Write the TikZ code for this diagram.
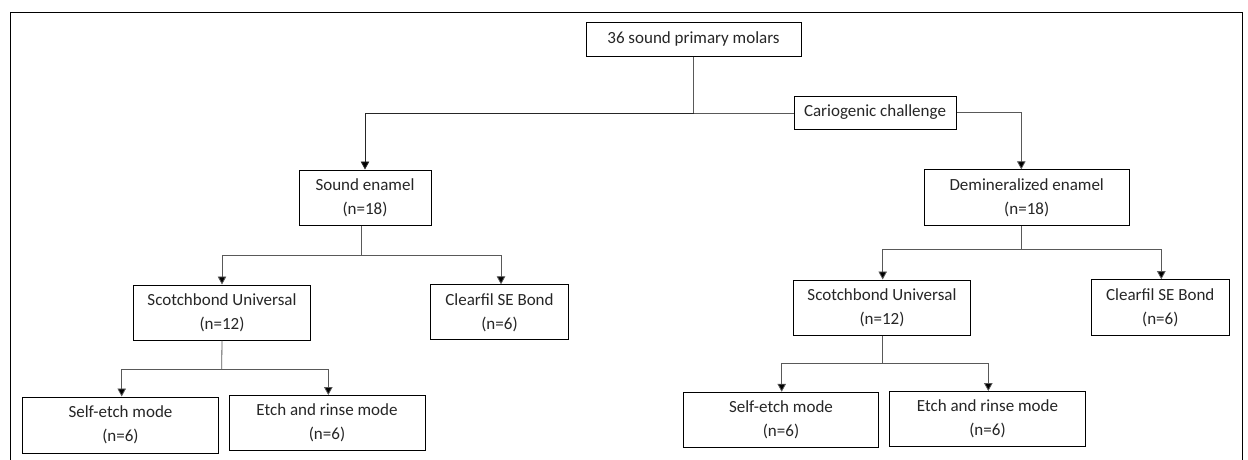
\documentclass[tikz,border=0pt]{standalone}
\usepackage{fontspec}
\setmainfont{Carlito}
\usetikzlibrary{arrows.meta}
\tikzset{
  box/.style={draw=black, line width=1pt, fill=white, inner sep=0pt, align=center,
    font=\fontsize{17}{24}\selectfont, text=black!85},
  conn/.style={draw=black!65, line width=0.8pt},
  arr/.style={conn, -{Triangle[length=8pt,width=8.5pt,fill=black]}},
  frame/.style={draw=black, line width=1.3pt}
}
\begin{document}
\begin{tikzpicture}[x=1pt,y=-1pt]
\useasboundingbox (0,0) rectangle (1248,459);
\draw[frame] (10.7,470) -- (10.7,12.7) -- (1242.7,12.7) -- (1242.7,470);

\node[box, minimum width=215pt, minimum height=34pt] (top) at (693.5,39) {36 sound primary molars};
\node[box, minimum width=162pt, minimum height=33pt] (cario) at (875,112.5) {Cariogenic challenge};
\node[box, minimum width=132pt, minimum height=55pt] (sound) at (365,197.5) {Sound enamel\\(n=18)};
\node[box, minimum width=205pt, minimum height=56pt] (demin) at (1026.7,197.8) {Demineralized enamel\\(n=18)};
\node[box, minimum width=177pt, minimum height=55pt] (scotchL) at (222,312.5) {Scotchbond Universal\\(n=12)};
\node[box, minimum width=138pt, minimum height=55pt] (clearL) at (499.5,312.3) {Clearfil SE Bond\\(n=6)};
\node[box, minimum width=196pt, minimum height=56pt] (selfL) at (120.5,425) {Self-etch mode\\(n=6)};
\node[box, minimum width=196pt, minimum height=55pt] (etchL) at (327,423) {Etch and rinse mode\\(n=6)};
\node[box, minimum width=177pt, minimum height=55pt] (scotchR) at (882,307.5) {Scotchbond Universal\\(n=12)};
\node[box, minimum width=138pt, minimum height=56pt] (clearR) at (1160.3,307.7) {Clearfil SE Bond\\(n=6)};
\node[box, minimum width=195pt, minimum height=55pt] (selfR) at (781,419.8) {Self-etch mode\\(n=6)};
\node[box, minimum width=196pt, minimum height=55pt] (etchR) at (987.5,419) {Etch and rinse mode\\(n=6)};

% junctions
\coordinate (j0) at (693.5,113.5);
\coordinate (j1) at (361.7,255);
\coordinate (j2) at (221.7,369);
\coordinate (j3) at (1021.3,249.7);
\coordinate (j4) at (882.7,363.7);

% top level
\draw[conn] (top.south) -- (j0);
\draw[conn] (j0) -- (j0 -| cario.west);
\draw[arr, draw=black!85] (j0) -| (sound.north);
\draw[arr] (cario.east) -| ([xshift=-5.4pt]demin.north);

% sound enamel branch
\draw[conn] (sound.south -| j1) -- (j1);
\draw[arr] (j1) -| (scotchL.north);
\draw[arr] (j1) -| ([xshift=1.5pt]clearL.north);
\draw[conn] (scotchL.south) -- (j2);
\draw[arr] (j2) -| ([xshift=1.2pt]selfL.north);
\draw[arr] (j2) -| ([xshift=1.3pt]etchL.north);

% demineralized branch
\draw[conn] (demin.south -| j3) -- (j3);
\draw[arr] (j3) -| ([xshift=0.7pt]scotchR.north);
\draw[arr] (j3) -| ([xshift=1pt]clearR.north);
\draw[conn] (scotchR.south -| j4) -- (j4);
\draw[arr] (j4) -| ([xshift=0.7pt]selfR.north);
\draw[arr] (j4) -| ([xshift=0.8pt]etchR.north);
\end{tikzpicture}
\end{document}
